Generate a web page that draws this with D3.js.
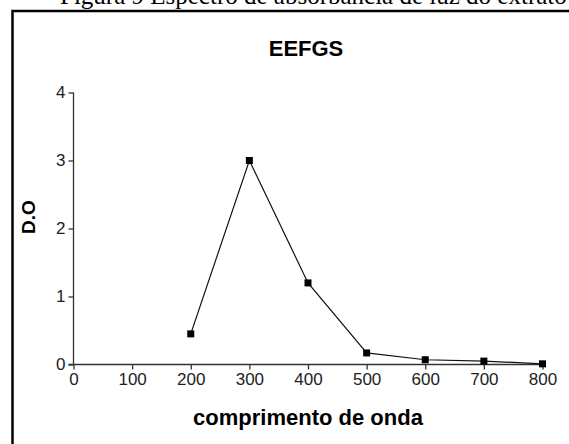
<!DOCTYPE html>
<html>
<head>
<meta charset="utf-8">
<script src="https://cdn.jsdelivr.net/npm/d3@7"></script>
<style>
  html, body { margin: 0; padding: 0; background: #fff; }
  svg { display: block; }
</style>
</head>
<body>
<svg id="chart" width="569" height="444"></svg>
<script>
// Absorbance spectrum of the EEFGS extract
const wavelengths = [200, 300, 400, 500, 600, 700, 800];
const absorbance  = [0.45, 3.0, 1.2, 0.17, 0.07, 0.05, 0.01];
const xTicks = [0, 100, 200, 300, 400, 500, 600, 700, 800];
const yTicks = [0, 1, 2, 3, 4];

const svg = d3.select("#chart");

// Caption above the framed figure
svg.append("text")
  .attr("x", 60).attr("y", 4)
  .attr("font-family", "Liberation Serif, Times New Roman, serif")
  .attr("font-size", 25)
  .attr("fill", "#000")
  .text("Figura 9 Espectro de absorbância de luz do extrato");

// Frame
svg.append("path")
  .attr("d", "M12.5,445 V11 H570")
  .attr("fill", "none")
  .attr("stroke", "#000")
  .attr("stroke-width", 2.5);

const x = d3.scaleLinear().domain([0, 800]).range([73.5, 542.5]);
const y = d3.scaleLinear().domain([0, 4]).range([364.5, 92.5]);

const axisColor = "#333";

const gx = svg.append("g")
  .attr("transform", `translate(0,${y(0)})`)
  .call(d3.axisBottom(x).tickValues(xTicks).tickSize(5).tickPadding(3).tickFormat(d3.format("d")));
const gy = svg.append("g")
  .attr("transform", `translate(${x(0)},0)`)
  .call(d3.axisLeft(y).tickValues(yTicks).tickSize(5).tickPadding(3).tickFormat(d3.format("d")));

[gx, gy].forEach(g => {
  g.select(".domain").attr("stroke", axisColor).attr("stroke-width", 1.3);
  g.selectAll(".tick line").attr("stroke", axisColor).attr("stroke-width", 1.3);
  g.selectAll(".tick text")
    .attr("fill", "#222")
    .attr("font-family", "Liberation Sans, Arial, sans-serif")
    .attr("font-size", 17);
});
// Axis lines meet at the origin without the end caps
gx.select(".domain").attr("d", `M${x(0) - 5},0H${x(800)}`);
gy.select(".domain").attr("d", `M0,${y(4)}V${y(0)}`);

// Series line
const pts = wavelengths.map((w, i) => [w, absorbance[i]]);
svg.append("path")
  .datum(pts)
  .attr("fill", "none")
  .attr("stroke", "#111")
  .attr("stroke-width", 1.2)
  .attr("d", d3.line().x(d => x(d[0])).y(d => y(d[1])));

// Square markers
svg.selectAll("rect.pt")
  .data(pts)
  .join("rect")
  .attr("class", "pt")
  .attr("x", d => x(d[0]) - 3.5)
  .attr("y", d => y(d[1]) - 3.5)
  .attr("width", 7)
  .attr("height", 7)
  .attr("fill", "#000");

// Titles
const sans = "Liberation Sans, Arial, sans-serif";
svg.append("text")
  .attr("x", 306).attr("y", 56)
  .attr("text-anchor", "middle")
  .attr("font-family", sans).attr("font-weight", "bold")
  .attr("font-size", 22)
  .text("EEFGS");

svg.append("text")
  .attr("x", 308).attr("y", 425)
  .attr("text-anchor", "middle")
  .attr("font-family", sans).attr("font-weight", "bold")
  .attr("font-size", 22)
  .text("comprimento de onda");

svg.append("text")
  .attr("transform", "translate(35,217) rotate(-90)")
  .attr("text-anchor", "middle")
  .attr("font-family", sans).attr("font-weight", "bold")
  .attr("font-size", 19)
  .text("D.O");
</script>
</body>
</html>
